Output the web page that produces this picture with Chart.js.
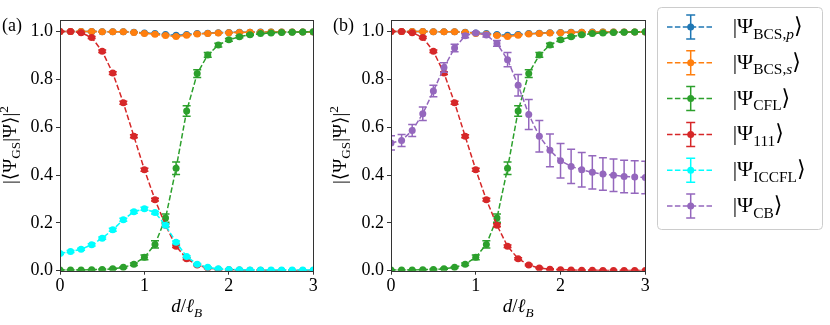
<!DOCTYPE html>
<html lang="en">
<head>
<meta charset="UTF-8">
<title>Ground state overlaps</title>
<script src="https://cdn.jsdelivr.net/npm/chart.js@4.4.0/dist/chart.umd.min.js"></script>
<style>
  body { margin: 0; background: #fff; }
  #wrap { position: relative; width: 830px; height: 325px; }
  canvas { position: absolute; top: 0; }
</style>
</head>
<body>
<div id="wrap">
  <canvas id="chartA" width="330" height="325" style="left:0"></canvas>
  <canvas id="chartB" width="500" height="325" style="left:330px"></canvas>
</div>
<script>
// d / l_B grid
const dValues = [0, 0.125, 0.25, 0.375, 0.5, 0.625, 0.75, 0.875, 1.0, 1.125, 1.25, 1.375, 1.5,
                 1.625, 1.75, 1.875, 2.0, 2.125, 2.25, 2.375, 2.5, 2.625, 2.75, 2.875, 3.0];
const xTicks = [0, 1, 2, 3];
const yTicks = [0, 0.2, 0.4, 0.6, 0.8, 1.0];

// overlaps |<GS|psi>|^2 and their error bars
const bcsP = [1.000, 1.000, 1.000, 1.000, 0.999, 0.999, 0.999, 0.997, 0.994, 0.991, 0.987, 0.984, 0.987,
              0.991, 0.993, 0.995, 0.996, 0.997, 0.997, 0.998, 0.998, 0.998, 0.998, 0.998, 0.998];
const bcsPErr = [0.001, 0.001, 0.001, 0.001, 0.001, 0.001, 0.001, 0.001, 0.001, 0.001, 0.001, 0.001, 0.001,
                 0.001, 0.001, 0.001, 0.001, 0.001, 0.001, 0.001, 0.001, 0.001, 0.001, 0.001, 0.001];
const bcsS = [1.000, 1.000, 1.000, 1.000, 0.999, 0.999, 0.999, 0.996, 0.992, 0.988, 0.983, 0.979, 0.984,
              0.989, 0.992, 0.994, 0.995, 0.996, 0.997, 0.997, 0.998, 0.998, 0.998, 0.998, 0.998];
const bcsSErr = [0.001, 0.001, 0.001, 0.001, 0.001, 0.001, 0.001, 0.001, 0.002, 0.002, 0.002, 0.002, 0.002,
                 0.002, 0.001, 0.001, 0.001, 0.001, 0.001, 0.001, 0.001, 0.001, 0.001, 0.001, 0.001];
const cfl = [0.003, 0.003, 0.003, 0.004, 0.005, 0.008, 0.014, 0.027, 0.056, 0.110, 0.220, 0.428, 0.668,
             0.824, 0.902, 0.943, 0.965, 0.978, 0.986, 0.991, 0.994, 0.996, 0.997, 0.998, 0.999];
const cflErr = [0.001, 0.001, 0.001, 0.001, 0.002, 0.002, 0.003, 0.005, 0.010, 0.015, 0.017, 0.026, 0.022,
                0.016, 0.010, 0.008, 0.006, 0.004, 0.003, 0.002, 0.002, 0.002, 0.001, 0.001, 0.001];
const s111 = [1.000, 1.000, 0.995, 0.975, 0.917, 0.826, 0.702, 0.562, 0.422, 0.297, 0.190, 0.102, 0.050,
              0.024, 0.011, 0.006, 0.004, 0.003, 0.002, 0.002, 0.001, 0.001, 0.001, 0.001, 0.001];
const s111Err = [0.001, 0.001, 0.002, 0.004, 0.005, 0.006, 0.006, 0.006, 0.006, 0.006, 0.006, 0.005, 0.004,
                 0.003, 0.002, 0.002, 0.001, 0.001, 0.001, 0.001, 0.001, 0.001, 0.001, 0.001, 0.001];
const iccfl = [0.072, 0.080, 0.090, 0.108, 0.136, 0.171, 0.213, 0.246, 0.259, 0.243, 0.190, 0.119, 0.059,
               0.027, 0.014, 0.008, 0.005, 0.004, 0.003, 0.003, 0.003, 0.003, 0.003, 0.003, 0.003];
const iccflErr = [0.004, 0.004, 0.004, 0.005, 0.005, 0.006, 0.006, 0.006, 0.006, 0.006, 0.006, 0.005, 0.004,
                  0.003, 0.002, 0.002, 0.001, 0.001, 0.001, 0.001, 0.001, 0.001, 0.001, 0.001, 0.001];
const cb = [0.534, 0.544, 0.586, 0.656, 0.751, 0.849, 0.931, 0.982, 0.994, 0.985, 0.950, 0.882, 0.775,
            0.653, 0.562, 0.503, 0.460, 0.436, 0.422, 0.411, 0.404, 0.399, 0.394, 0.392, 0.390];
const cbErr = [0.030, 0.025, 0.025, 0.028, 0.024, 0.020, 0.016, 0.008, 0.005, 0.008, 0.012, 0.030, 0.045,
               0.063, 0.066, 0.068, 0.072, 0.072, 0.072, 0.070, 0.068, 0.068, 0.068, 0.068, 0.068];

const SERIF = "'Liberation Serif', 'DejaVu Serif', serif";

const series = {
  bcsP:  { color: '#1f77b4', vals: bcsP,  errs: bcsPErr,  label: [{t: '|Ψ'}, {t: 'BCS,', sub: 1}, {t: 'p', sub: 1, it: 1}, {t: '⟩'}] },
  bcsS:  { color: '#ff7f0e', vals: bcsS,  errs: bcsSErr,  label: [{t: '|Ψ'}, {t: 'BCS,', sub: 1}, {t: 's', sub: 1, it: 1}, {t: '⟩'}] },
  cfl:   { color: '#2ca02c', vals: cfl,   errs: cflErr,   label: [{t: '|Ψ'}, {t: 'CFL', sub: 1}, {t: '⟩'}] },
  s111:  { color: '#d62728', vals: s111,  errs: s111Err,  label: [{t: '|Ψ'}, {t: '111', sub: 1}, {t: '⟩'}] },
  iccfl: { color: '#00ffff', vals: iccfl, errs: iccflErr, label: [{t: '|Ψ'}, {t: 'ICCFL', sub: 1}, {t: '⟩'}] },
  cb:    { color: '#9467bd', vals: cb,    errs: cbErr,    label: [{t: '|Ψ'}, {t: 'CB', sub: 1}, {t: '⟩'}] }
};
const legendOrder = ['bcsP', 'bcsS', 'cfl', 's111', 'iccfl', 'cb'];

// draw text with sub/superscripts
function richText(ctx, parts, x, y, size, align) {
  const fonts = parts.map(p => (p.it ? 'italic ' : '') + ((p.sub || p.sup) ? size * 0.7 : size) + 'px ' + SERIF);
  let w = 0;
  parts.forEach((p, i) => { ctx.font = fonts[i]; w += ctx.measureText(p.t).width; });
  let cx = align === 'center' ? x - w / 2 : x;
  parts.forEach((p, i) => {
    ctx.font = fonts[i];
    const dy = p.sub ? size * 0.25 : (p.sup ? -size * 0.42 : 0);
    ctx.fillText(p.t, cx, y + dy);
    cx += ctx.measureText(p.t).width;
  });
}

const errorBars = {
  id: 'errorBars',
  beforeDatasetDraw(chart, args) {
    const ds = chart.data.datasets[args.index];
    if (!ds.errors) return;
    const ctx = chart.ctx, ys = chart.scales.y, a = chart.chartArea;
    ctx.save();
    ctx.beginPath();
    ctx.rect(a.left, a.top, a.right - a.left, a.bottom - a.top);
    ctx.clip();
    ctx.strokeStyle = ds.borderColor;
    ctx.lineWidth = 1.5;
    ctx.setLineDash([]);
    args.meta.data.forEach((pt, i) => {
      const v = ds.data[i].y, e = ds.errors[i];
      const top = ys.getPixelForValue(v + e), bot = ys.getPixelForValue(v - e);
      ctx.beginPath();
      ctx.moveTo(pt.x, top); ctx.lineTo(pt.x, bot);
      ctx.moveTo(pt.x - 4, top); ctx.lineTo(pt.x + 4, top);
      ctx.moveTo(pt.x - 4, bot); ctx.lineTo(pt.x + 4, bot);
      ctx.stroke();
    });
    ctx.restore();
  }
};

const decorations = {
  id: 'decorations',
  afterDraw(chart, args, opts) {
    const ctx = chart.ctx, a = chart.chartArea;
    ctx.save();
    ctx.strokeStyle = '#333';
    ctx.lineWidth = 1;
    ctx.strokeRect(Math.round(a.left) + 0.5, Math.round(a.top) + 0.5,
                   Math.round(a.right - a.left), Math.round(a.bottom - a.top));
    ctx.fillStyle = '#000';
    ctx.textBaseline = 'alphabetic';
    // panel tag
    ctx.font = '18px ' + SERIF;
    ctx.fillText(opts.tag, opts.tagX, 31);
    // x title
    richText(ctx, [{t: 'd', it: 1}, {t: '/'}, {t: 'ℓ', it: 1}, {t: 'B', sub: 1, it: 1}],
             (a.left + a.right) / 2, 312, 19, 'center');
    // y title
    ctx.translate(opts.yTitleX, (a.top + a.bottom) / 2);
    ctx.rotate(-Math.PI / 2);
    richText(ctx, [{t: '|⟨Ψ'}, {t: 'GS', sub: 1}, {t: '|Ψ⟩|'}, {t: '2', sup: 1}], 0, 0, 19, 'center');
    ctx.restore();
  }
};

const legendBox = {
  id: 'legendBox',
  afterDraw(chart, args, opts) {
    if (!opts.show) return;
    const ctx = chart.ctx;
    const L = 327.5, T = 7.5, W = 165, H = 222;
    ctx.save();
    ctx.fillStyle = 'rgba(255,255,255,0.8)';
    ctx.strokeStyle = '#cccccc';
    ctx.lineWidth = 1;
    ctx.beginPath();
    ctx.roundRect(L, T, W, H, 4);
    ctx.fill();
    ctx.stroke();
    legendOrder.forEach((key, i) => {
      const s = series[key];
      const cy = 27 + i * 35.8;
      ctx.strokeStyle = s.color;
      ctx.fillStyle = s.color;
      ctx.lineWidth = 1.5;
      ctx.setLineDash([5.5, 2.4]);
      ctx.beginPath(); ctx.moveTo(337, cy); ctx.lineTo(384, cy); ctx.stroke();
      ctx.setLineDash([]);
      ctx.beginPath();
      ctx.moveTo(360.7, cy - 12); ctx.lineTo(360.7, cy + 12);
      ctx.moveTo(356.2, cy - 12); ctx.lineTo(365.2, cy - 12);
      ctx.moveTo(356.2, cy + 12); ctx.lineTo(365.2, cy + 12);
      ctx.stroke();
      ctx.beginPath(); ctx.arc(360.7, cy, 3.5, 0, Math.PI * 2); ctx.fill();
      ctx.fillStyle = '#000';
      richText(ctx, s.label, 402.7, cy + 6, 22, 'left');
    });
    ctx.restore();
  }
};

function makeDatasets(keys) {
  return keys.map((key, i) => {
    const s = series[key];
    return {
      data: s.vals.map((v, j) => ({x: dValues[j], y: v})),
      errors: s.errs,
      borderColor: s.color,
      backgroundColor: s.color,
      borderWidth: 1.5,
      borderDash: [5.5, 2.4],
      pointRadius: 3.5,
      pointBorderWidth: 0,
      pointHoverRadius: 3.5,
      tension: 0,
      clip: 0,
      order: keys.length - i
    };
  });
}

function makeChart(id, keys, yWidth, padRight, tag, tagX, yTitleX, showLegend) {
  return new Chart(document.getElementById(id), {
    type: 'line',
    data: { datasets: makeDatasets(keys) },
    plugins: [errorBars, decorations, legendBox],
    options: {
      responsive: false,
      animation: false,
      layout: { padding: { top: 19.5, right: padRight, bottom: 0, left: 0 } },
      plugins: {
        legend: { display: false },
        tooltip: { enabled: false },
        decorations: { tag: tag, tagX: tagX, yTitleX: yTitleX },
        legendBox: { show: showLegend }
      },
      scales: {
        x: {
          type: 'linear', min: 0, max: 3,
          afterBuildTicks: sc => { sc.ticks = xTicks.map(v => ({value: v})); },
          afterFit: sc => { sc.height = 54.3; },
          ticks: { color: '#000', padding: 1, font: { family: SERIF, size: 18 }, callback: v => String(v) },
          grid: { drawOnChartArea: false, drawTicks: true, tickLength: 4, color: '#333' },
          border: { display: false }
        },
        y: {
          min: 0, max: 1.05,
          afterBuildTicks: sc => { sc.ticks = yTicks.map(v => ({value: v})); },
          afterFit: sc => { sc.width = yWidth; },
          ticks: { color: '#000', padding: 3, font: { family: SERIF, size: 18 }, callback: v => v.toFixed(1) },
          grid: { drawOnChartArea: false, drawTicks: true, tickLength: 4, color: '#333' },
          border: { display: false }
        }
      }
    }
  });
}

makeChart('chartA', ['bcsP', 'bcsS', 'cfl', 's111', 'iccfl'], 60, 16.7, '(a)', 2, 15.5, false);
makeChart('chartB', ['bcsP', 'bcsS', 'cfl', 's111', 'cb'], 61, 184.7, '(b)', 3, 15.5, true);
</script>
</body>
</html>
